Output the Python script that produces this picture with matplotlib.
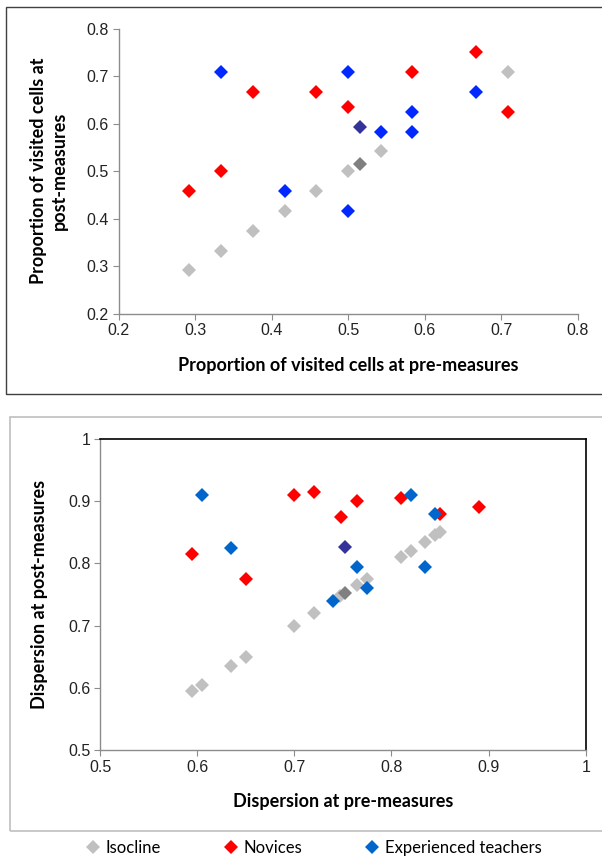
import numpy as np
import matplotlib
matplotlib.use("Agg")
import matplotlib.pyplot as plt
from matplotlib.lines import Line2D
from matplotlib.patches import Rectangle

# ---- data: proportion of visited cells (top panel) ----
iso_top = [0.292, 0.333, 0.375, 0.417, 0.458, 0.500, 0.542, 0.708]
iso_top_mean = [0.515]

nov_pre_top = [0.292, 0.333, 0.375, 0.458, 0.500, 0.583, 0.667, 0.708]
nov_post_top = [0.458, 0.500, 0.667, 0.667, 0.635, 0.708, 0.750, 0.625]

exp_pre_top = [0.333, 0.417, 0.500, 0.500, 0.542, 0.583, 0.583, 0.667]
exp_post_top = [0.708, 0.458, 0.708, 0.417, 0.583, 0.625, 0.583, 0.667]
exp_top_mean = ([0.515], [0.593])

# ---- data: dispersion (bottom panel) ----
iso_bot = [0.595, 0.605, 0.635, 0.650, 0.700, 0.720, 0.747, 0.765, 0.775,
           0.810, 0.820, 0.835, 0.845, 0.850]
iso_bot_mean = [0.752]

nov_pre_bot = [0.595, 0.650, 0.700, 0.720, 0.748, 0.765, 0.810, 0.850, 0.890]
nov_post_bot = [0.815, 0.775, 0.910, 0.915, 0.874, 0.900, 0.905, 0.880, 0.890]

exp_pre_bot = [0.605, 0.635, 0.740, 0.765, 0.775, 0.820, 0.835, 0.845]
exp_post_bot = [0.910, 0.825, 0.740, 0.795, 0.760, 0.910, 0.795, 0.880]
exp_bot_mean = ([0.752], [0.826])

# ---- style ----
GRAY = "#c0c0c0"
DARKGRAY = "#808080"
RED = "#ff0000"
BLUE_TOP = "#0028ff"
BLUE_BOT = "#0066cc"
NAVY = "#333399"
SPINE = "#8c8c8c"
MS = 7.4

TICKFONT = "Liberation Sans"
LABELFONT = "Lato"

W, H = 602, 860
fig = plt.figure(figsize=(W / 100, H / 100), dpi=100)


def px_axes(left, top, right, bottom):
    return fig.add_axes([left / W, 1 - bottom / H, (right - left) / W, (bottom - top) / H])


def diamonds(ax, x, y, color):
    ax.plot(x, y, linestyle="none", marker="D", markersize=MS, color=color,
            markeredgewidth=0, clip_on=False)


def style_axes(ax, box):
    for side in ["left", "bottom"]:
        ax.spines[side].set_color(SPINE)
        ax.spines[side].set_linewidth(1.0)
    for side in ["top", "right"]:
        if box:
            ax.spines[side].set_color("black")
            ax.spines[side].set_linewidth(1.2)
        else:
            ax.spines[side].set_visible(False)
    ax.tick_params(direction="out", length=4, width=0.8, color=SPINE,
                   labelsize=11.5, labelcolor="#222222", pad=3)
    for lab in ax.get_xticklabels() + ax.get_yticklabels():
        lab.set_fontfamily(TICKFONT)


# outer chart frames
fig.patches.append(Rectangle((6 / W, 1 - 394 / H), 610 / W, 387 / H,
                             transform=fig.transFigure, fill=False,
                             edgecolor="#404040", linewidth=1.0))
fig.patches.append(Rectangle((10 / W, 1 - 831 / H), 610 / W, 414 / H,
                             transform=fig.transFigure, fill=False,
                             edgecolor="#bfbfbf", linewidth=1.2))

# ---- top panel ----
ax1 = px_axes(118.7, 28.7, 578, 313.7)
diamonds(ax1, iso_top, iso_top, GRAY)
diamonds(ax1, nov_pre_top, nov_post_top, RED)
diamonds(ax1, exp_pre_top, exp_post_top, BLUE_TOP)
diamonds(ax1, iso_top_mean, iso_top_mean, DARKGRAY)
diamonds(ax1, exp_top_mean[0], exp_top_mean[1], NAVY)
ax1.set_xlim(0.2, 0.8)
ax1.set_ylim(0.2, 0.8)
ax1.set_xticks(np.arange(0.2, 0.81, 0.1))
ax1.set_yticks(np.arange(0.2, 0.81, 0.1))
ax1.xaxis.set_major_formatter(matplotlib.ticker.FormatStrFormatter("%.1f"))
ax1.yaxis.set_major_formatter(matplotlib.ticker.FormatStrFormatter("%.1f"))
style_axes(ax1, box=False)

fig.text(348 / W, 1 - 365 / H, "Proportion of visited cells at pre-measures",
         ha="center", va="center", fontsize=13, fontweight="bold", family=LABELFONT)
fig.text(49 / W, 1 - 171 / H, "Proportion of visited cells at\npost-measures",
         ha="center", va="center", rotation=90, fontsize=13, fontweight="bold",
         family=LABELFONT, linespacing=1.25, multialignment="center")

# ---- bottom panel ----
ax2 = px_axes(100, 439, 585.8, 750)
diamonds(ax2, iso_bot, iso_bot, GRAY)
diamonds(ax2, nov_pre_bot, nov_post_bot, RED)
diamonds(ax2, exp_pre_bot, exp_post_bot, BLUE_BOT)
diamonds(ax2, iso_bot_mean, iso_bot_mean, DARKGRAY)
diamonds(ax2, exp_bot_mean[0], exp_bot_mean[1], NAVY)
ax2.set_xlim(0.5, 1.0)
ax2.set_ylim(0.5, 1.0)
ax2.set_xticks(np.arange(0.5, 1.01, 0.1))
ax2.set_yticks(np.arange(0.5, 1.01, 0.1))
ax2.set_xticklabels(["0.5", "0.6", "0.7", "0.8", "0.9", "1"])
ax2.set_yticklabels(["0.5", "0.6", "0.7", "0.8", "0.9", "1"])
style_axes(ax2, box=True)

fig.text(343 / W, 1 - 801 / H, "Dispersion at pre-measures",
         ha="center", va="center", fontsize=13, fontweight="bold", family=LABELFONT)
fig.text(40 / W, 1 - 594 / H, "Dispersion at post-measures",
         ha="center", va="center", rotation=90, fontsize=13, fontweight="bold",
         family=LABELFONT)

# ---- legend ----
handles = [
    Line2D([], [], linestyle="none", marker="D", markersize=MS, color=GRAY, markeredgewidth=0),
    Line2D([], [], linestyle="none", marker="D", markersize=MS, color=RED, markeredgewidth=0),
    Line2D([], [], linestyle="none", marker="D", markersize=MS, color=BLUE_BOT, markeredgewidth=0),
]
fig.legend(handles, ["Isocline", "Novices", "Experienced teachers"],
           loc="center", bbox_to_anchor=(314 / W, 1 - 848 / H), ncol=3,
           frameon=False, handlelength=0.8, handletextpad=0.35, columnspacing=3.8,
           prop={"family": LABELFONT, "size": 12})

fig.savefig("out.png", dpi=100)
